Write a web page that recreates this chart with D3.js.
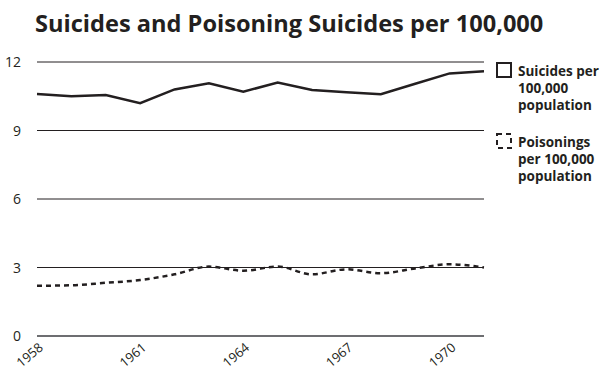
<!DOCTYPE html>
<html>
<head>
<meta charset="utf-8">
<script src="https://cdn.jsdelivr.net/npm/d3@7"></script>
<style>
  body { margin: 0; background: #fff; }
  svg { display: block; font-family: "Open Sans", "Noto Sans", sans-serif; }
</style>
</head>
<body>
<svg id="chart" width="601" height="371"></svg>
<script>
const years = [1958, 1959, 1960, 1961, 1962, 1963, 1964, 1965, 1966, 1967, 1968, 1969, 1970, 1971];
const suicides = [10.6, 10.5, 10.55, 10.2, 10.8, 11.07, 10.7, 11.1, 10.77, 10.68, 10.59, 11.05, 11.5, 11.6];
const poisonings = [2.2, 2.22, 2.33, 2.45, 2.7, 3.04, 2.86, 3.04, 2.7, 2.92, 2.75, 2.96, 3.14, 3.0];
const yTicks = [0, 3, 6, 9, 12];
const xTicks = [1958, 1961, 1964, 1967, 1970];

const svg = d3.select('#chart');
const margin = {left: 37, right: 117, top: 62, bottom: 35};
const width = 601 - margin.left - margin.right;
const height = 371 - margin.top - margin.bottom;

const x = d3.scaleLinear().domain([1958, 1971]).range([margin.left, margin.left + width]);
const y = d3.scaleLinear().domain([0, 12]).range([margin.top + height, margin.top]);

// title
svg.append('text')
    .attr('x', 35)
    .attr('y', 32)
    .attr('font-size', 23.6)
    .attr('font-weight', 'bold')
    .attr('fill', '#231f20')
    .text('Suicides and Poisoning Suicides per 100,000');

// grid
svg.append('g')
    .selectAll('line')
    .data(yTicks)
    .enter()
    .append('line')
    .attr('x1', x(1958))
    .attr('x2', x(1971))
    .attr('y1', d => y(d))
    .attr('y2', d => y(d))
    .attr('stroke', d => d ? '#231f20' : '#6d6e71')
    .attr('stroke-width', d => d ? 1 : 2);

// y labels
svg.append('g')
    .selectAll('text')
    .data(yTicks)
    .enter()
    .append('text')
    .attr('x', 21)
    .attr('y', d => y(d) + 5)
    .attr('text-anchor', 'end')
    .attr('font-size', 14)
    .attr('fill', '#231f20')
    .text(d => d);

// x labels
svg.append('g')
    .selectAll('text')
    .data(xTicks)
    .enter()
    .append('text')
    .attr('transform', d => `translate(${x(d) + 7},${y(0) + 13}) rotate(-40)`)
    .attr('text-anchor', 'end')
    .attr('font-size', 13)
    .attr('fill', '#231f20')
    .text(d => d);

// series
svg.append('path')
    .datum(suicides)
    .attr('fill', 'none')
    .attr('stroke', '#231f20')
    .attr('stroke-width', 2.5)
    .attr('d', d3.line()
        .x((d, i) => x(years[i]))
        .y(d => y(d)));

svg.append('path')
    .datum(poisonings)
    .attr('fill', 'none')
    .attr('stroke', '#231f20')
    .attr('stroke-width', 2.5)
    .attr('stroke-dasharray', '5,4')
    .attr('d', d3.line()
        .curve(d3.curveMonotoneX)
        .x((d, i) => x(years[i]))
        .y(d => y(d)));

// legend
const legendItems = [
    {lines: ['Suicides per', '100,000', 'population'], dash: null, top: 62},
    {lines: ['Poisonings', 'per 100,000', 'population'], dash: '5,4', top: 133}
];

const lg = svg.append('g')
    .selectAll('g')
    .data(legendItems)
    .enter()
    .append('g')
    .attr('transform', d => `translate(497,${d.top})`);

lg.append('rect')
    .attr('x', 0)
    .attr('y', 1)
    .attr('width', 14)
    .attr('height', 14)
    .attr('fill', 'none')
    .attr('stroke', '#231f20')
    .attr('stroke-width', 2)
    .attr('stroke-dasharray', d => d.dash);

lg.append('text')
    .attr('font-size', 13.5)
    .attr('font-weight', 'bold')
    .attr('fill', '#231f20')
    .selectAll('tspan')
    .data(d => d.lines)
    .enter()
    .append('tspan')
    .attr('x', 21)
    .attr('y', (d, i) => 14 + i * 17)
    .text(d => d);
</script>
</body>
</html>
